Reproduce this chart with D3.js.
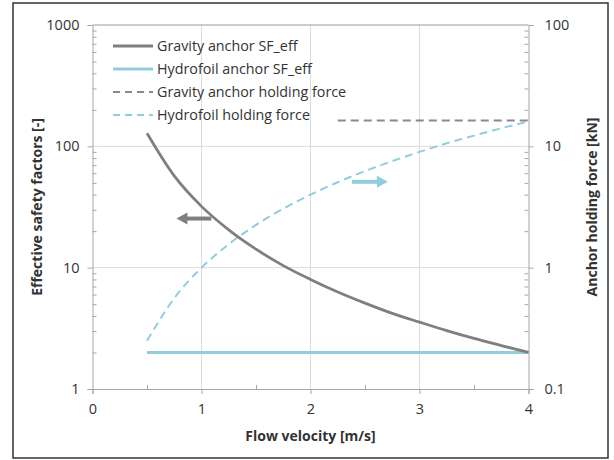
<!DOCTYPE html>
<html>
<head>
<meta charset="utf-8">
<script src="https://cdn.jsdelivr.net/npm/d3@7"></script>
<style>
  body { margin: 0; background: #fff; }
  svg { display: block; font-family: "Open Sans", sans-serif; }
</style>
</head>
<body>
<svg width="614" height="460"></svg>
<script>
// flow velocity samples [m/s]
const velocity = [0.5, 0.75, 1, 1.25, 1.5, 1.75, 2, 2.25, 2.5, 2.75, 3, 3.25, 3.5, 3.75, 4];
// effective safety factors
const gravitySF = [128, 57, 32, 20.5, 14.2, 10.4, 8, 6.3, 5.1, 4.2, 3.56, 3.03, 2.61, 2.28, 2];
const hydrofoilSF = [2, 2, 2, 2, 2, 2, 2, 2, 2, 2, 2, 2, 2, 2, 2];
// holding forces [kN]
const hydrofoilForce = [0.25, 0.56, 1, 1.56, 2.25, 3.06, 4, 5.06, 6.25, 7.56, 9, 10.6, 12.25, 14.1, 16];
const gravityForceV = [2.25, 2.5, 3, 3.5, 4];
const gravityForce = [16.3, 16.3, 16.3, 16.3, 16.3];

const xTicks = [0, 1, 2, 3, 4];
const leftTicks = [1, 10, 100, 1000];
const rightTicks = [0.1, 1, 10, 100];
const legendLabels = ["Gravity anchor SF_eff", "Hydrofoil anchor SF_eff", "Gravity anchor holding force", "Hydrofoil holding force"];

// arrow annotations: [x from, x to, value]
const leftArrow = [1.09, 0.77, 25.4];
const rightArrow = [2.38, 2.71, 5.1];

const svg = d3.select("svg");
const grey = "#7f7f7f";
const blue = "#92cddc";
const textCol = "#333";

const x = d3.scaleLinear().domain([0, 4]).range([92.5, 528.5]);
const yL = d3.scaleLog().domain([1, 1000]).range([389, 25]);
const yR = d3.scaleLog().domain([0.1, 100]).range([389, 25]);

// outer frame
svg.append("rect").attr("x", 13).attr("y", 3).attr("width", 595).attr("height", 455)
  .attr("fill", "none").attr("stroke", "#333").attr("stroke-width", 1.5);

// grid
svg.append("g").selectAll("line").data([1, 2, 3]).join("line")
  .attr("x1", d => x(d)).attr("x2", d => x(d)).attr("y1", yL(1000)).attr("y2", yL(1))
  .attr("stroke", "#dcdcdc");
svg.append("g").selectAll("line").data([10, 100]).join("line")
  .attr("x1", x(0)).attr("x2", x(4)).attr("y1", d => yL(d)).attr("y2", d => yL(d))
  .attr("stroke", "#dcdcdc");
svg.append("line").attr("x1", x(0)).attr("x2", x(4)).attr("y1", yL(1000)).attr("y2", yL(1000))
  .attr("stroke", "#9a9a9a");

// minor log ticks
const minors = [];
[1, 10, 100].forEach(dec => { for (let k = 2; k <= 9; k++) minors.push(dec * k); });

const axL = d3.axisLeft(yL).tickValues(leftTicks).tickFormat(d3.format("d")).tickSize(5).tickPadding(8);
svg.append("g").attr("transform", `translate(${x(0)},0)`).call(axL);
svg.append("g").attr("transform", `translate(${x(0)},0)`)
  .call(d3.axisRight(yL).tickValues(minors).tickSize(4).tickFormat(""))
  .call(g => g.select(".domain").remove());

const axR = d3.axisRight(yR).tickValues(rightTicks).tickFormat(d => d < 1 ? "0.1" : d3.format("d")(d)).tickSize(5).tickPadding(11);
svg.append("g").attr("transform", `translate(${x(4)},0)`).call(axR);
svg.append("g").attr("transform", `translate(${x(4)},0)`)
  .call(d3.axisLeft(yR).tickValues(minors.map(d => d / 10)).tickSize(4).tickFormat(""))
  .call(g => g.select(".domain").remove());

const axB = d3.axisBottom(x).tickValues(xTicks).tickFormat(d3.format("d")).tickSize(5).tickPadding(10);
svg.append("g").attr("transform", `translate(0,${yL(1)})`).call(axB);
svg.append("g").attr("transform", `translate(0,${yL(1)})`)
  .call(d3.axisTop(x).tickValues([0.5, 1.5, 2.5, 3.5]).tickSize(4).tickFormat(""))
  .call(g => g.select(".domain").remove());

svg.selectAll(".domain").attr("stroke", "#a6a6a6");
svg.selectAll(".tick line").attr("stroke", "#a6a6a6");
svg.selectAll(".tick text").attr("fill", textCol).style("font-size", "14.5px").style("font-family", "Open Sans");

// axis titles
const titleSize = 14;
svg.append("text").attr("transform", `translate(42,${(yL(1) + yL(1000)) / 2}) rotate(-90)`)
  .attr("text-anchor", "middle").attr("font-weight", "bold").attr("font-size", titleSize).attr("fill", textCol)
  .text("Effective safety factors [-]");
svg.append("text").attr("transform", `translate(597,${(yL(1) + yL(1000)) / 2}) rotate(-90)`)
  .attr("text-anchor", "middle").attr("font-weight", "bold").attr("font-size", titleSize).attr("fill", textCol)
  .text("Anchor holding force [kN]");
svg.append("text").attr("x", x(2)).attr("y", 441)
  .attr("text-anchor", "middle").attr("font-weight", "bold").attr("font-size", titleSize).attr("fill", textCol)
  .text("Flow velocity [m/s]");

// series
const lineL = d3.line().x(d => x(d[0])).y(d => yL(d[1])).curve(d3.curveMonotoneX);
const lineR = d3.line().x(d => x(d[0])).y(d => yR(d[1])).curve(d3.curveMonotoneX);

svg.append("path").datum(d3.zip(velocity, hydrofoilForce)).attr("d", lineR)
  .attr("fill", "none").attr("stroke", blue).attr("stroke-width", 2).attr("stroke-dasharray", "8,5");
svg.append("path").datum(d3.zip(gravityForceV, gravityForce)).attr("d", lineR)
  .attr("fill", "none").attr("stroke", "#8a8a8a").attr("stroke-width", 2).attr("stroke-dasharray", "8,5");
svg.append("path").datum(d3.zip(velocity, hydrofoilSF)).attr("d", lineL)
  .attr("fill", "none").attr("stroke", blue).attr("stroke-width", 3);
svg.append("path").datum(d3.zip(velocity, gravitySF)).attr("d", lineL)
  .attr("fill", "none").attr("stroke", grey).attr("stroke-width", 2.8);

// arrows
function arrow(x1, x2, y, col) {
  const dir = Math.sign(x2 - x1);
  svg.append("line").attr("x1", x1).attr("x2", x2 - dir * 9).attr("y1", y).attr("y2", y)
    .attr("stroke", col).attr("stroke-width", 4);
  svg.append("path").attr("d", `M${x2},${y} L${x2 - dir * 11},${y - 6} L${x2 - dir * 11},${y + 6} Z`)
    .attr("fill", col);
}
arrow(x(leftArrow[0]), x(leftArrow[1]), yL(leftArrow[2]), grey);
arrow(x(rightArrow[0]), x(rightArrow[1]), yR(rightArrow[2]), blue);

// legend
const styles = [
  { c: grey, w: 2.8, dash: null },
  { c: blue, w: 3, dash: null },
  { c: "#8a8a8a", w: 2, dash: "7,5" },
  { c: blue, w: 2, dash: "7,5" }
];
const leg = svg.append("g").selectAll("g").data(legendLabels).join("g")
  .attr("transform", (d, i) => `translate(113,${46 + i * 23})`);
leg.append("line").attr("x1", 0).attr("x2", 40)
  .attr("stroke", (d, i) => styles[i].c).attr("stroke-width", (d, i) => styles[i].w)
  .attr("stroke-dasharray", (d, i) => styles[i].dash);
leg.append("text").attr("x", 44).attr("dy", "0.35em").attr("font-size", 14.3).attr("fill", textCol)
  .text(d => d);
</script>
</body>
</html>
